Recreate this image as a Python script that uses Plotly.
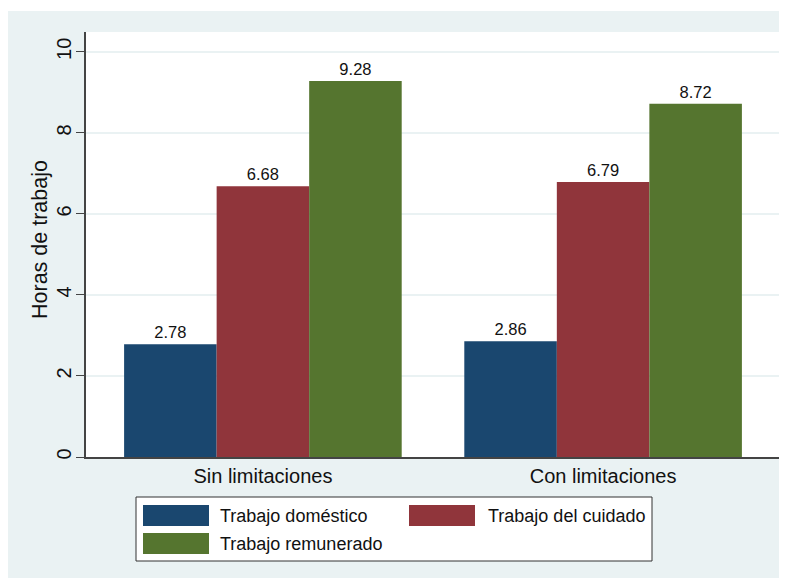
import plotly.graph_objects as go

# datos
categorias = ["Sin limitaciones", "Con limitaciones"]
series = ["Trabajo doméstico", "Trabajo del cuidado", "Trabajo remunerado"]
domestico = [2.78, 2.86]
cuidado = [6.68, 6.79]
remunerado = [9.28, 8.72]
colores = ["#1A476F", "#90353B", "#55752F"]
y_ticks = [0, 2, 4, 6, 8, 10]
y_titulo = "Horas de trabajo"

FONT = "Liberation Sans, Arial, sans-serif"
OFF = 8  # margen del body de la pagina
W, H = 787 - OFF, 581 - OFF
L, R, T, B = 78, 7, 24, 124
PW, PH = W - L - R, H - T - B


# coordenadas de pantalla -> papel
def px_x(px):
    return (px - OFF - L) / PW


def px_y(py):
    return (H - B - (py - OFF)) / PH


fig = go.Figure()
for nombre, valores, color in zip(series, [domestico, cuidado, remunerado], colores):
    fig.add_trace(go.Bar(
        x=categorias,
        y=valores,
        name=nombre,
        marker=dict(color=color, line=dict(width=0)),
        texttemplate="%{y:.2f}",
        textposition="outside",
        textfont=dict(size=16.5, color="#111111", family=FONT),
        cliponaxis=False,
        showlegend=False,
    ))

# fondo gris del grafico (estilo Stata)
shapes = [dict(
    type="rect", xref="paper", yref="paper", layer="below",
    x0=px_x(7), x1=px_x(785), y0=px_y(578), y1=px_y(11),
    fillcolor="#EAF2F3", line=dict(width=0),
)]
shapes.append(dict(
    type="rect", xref="paper", yref="paper", layer="below",
    x0=0, x1=1, y0=0, y1=1,
    fillcolor="white", line=dict(width=0),
))

# leyenda dibujada a mano (cajas grandes como en el original)
shapes.append(dict(
    type="rect", xref="paper", yref="paper",
    x0=px_x(136), x1=px_x(652), y0=px_y(561), y1=px_y(497),
    fillcolor="white", line=dict(color="#333333", width=1),
))
annotations = []
pos = [(143, 218, 505), (409, 486, 505), (143, 218, 533)]
for (sx, tx, sy), nombre, color in zip(pos, series, colores):
    shapes.append(dict(
        type="rect", xref="paper", yref="paper",
        x0=px_x(sx), x1=px_x(sx + 66), y0=px_y(sy + 21), y1=px_y(sy),
        fillcolor=color, line=dict(width=0),
    ))
    annotations.append(dict(
        xref="paper", yref="paper", x=px_x(tx), y=px_y(sy + 11),
        text=nombre, showarrow=False, xanchor="left", yanchor="middle",
        font=dict(size=18, color="#111111", family=FONT),
    ))

# titulo del eje y
annotations.append(dict(
    xref="paper", yref="paper", x=px_x(40), y=px_y(240),
    text=y_titulo, showarrow=False, textangle=-90,
    xanchor="center", yanchor="middle",
    font=dict(size=21.5, color="#111111", family=FONT),
))

fig.update_layout(
    width=W, height=H,
    margin=dict(l=L, r=R, t=T, b=B),
    paper_bgcolor="white",
    plot_bgcolor="rgba(0,0,0,0)",
    barmode="group",
    bargap=0.184,
    bargroupgap=0,
    font=dict(family=FONT, color="#111111"),
    shapes=shapes,
    annotations=annotations,
    showlegend=False,
)
fig.update_xaxes(
    range=[-0.52, 1.52],
    showline=True, linecolor="#444444", linewidth=1.5,
    ticks="", showgrid=False,
    tickfont=dict(size=20, color="#111111"),
)
fig.update_yaxes(
    range=[0, 10.49],
    tickvals=y_ticks,
    tickangle=-90,
    ticklabelstandoff=-3,
    ticks="outside", ticklen=8, tickcolor="#444444", tickwidth=1.2,
    showline=True, linecolor="#444444", linewidth=1.5,
    showgrid=True, gridcolor="#EAF2F3", gridwidth=1.5,
    zeroline=False,
    tickfont=dict(size=20, color="#111111"),
)

fig.write_html("out.html")
